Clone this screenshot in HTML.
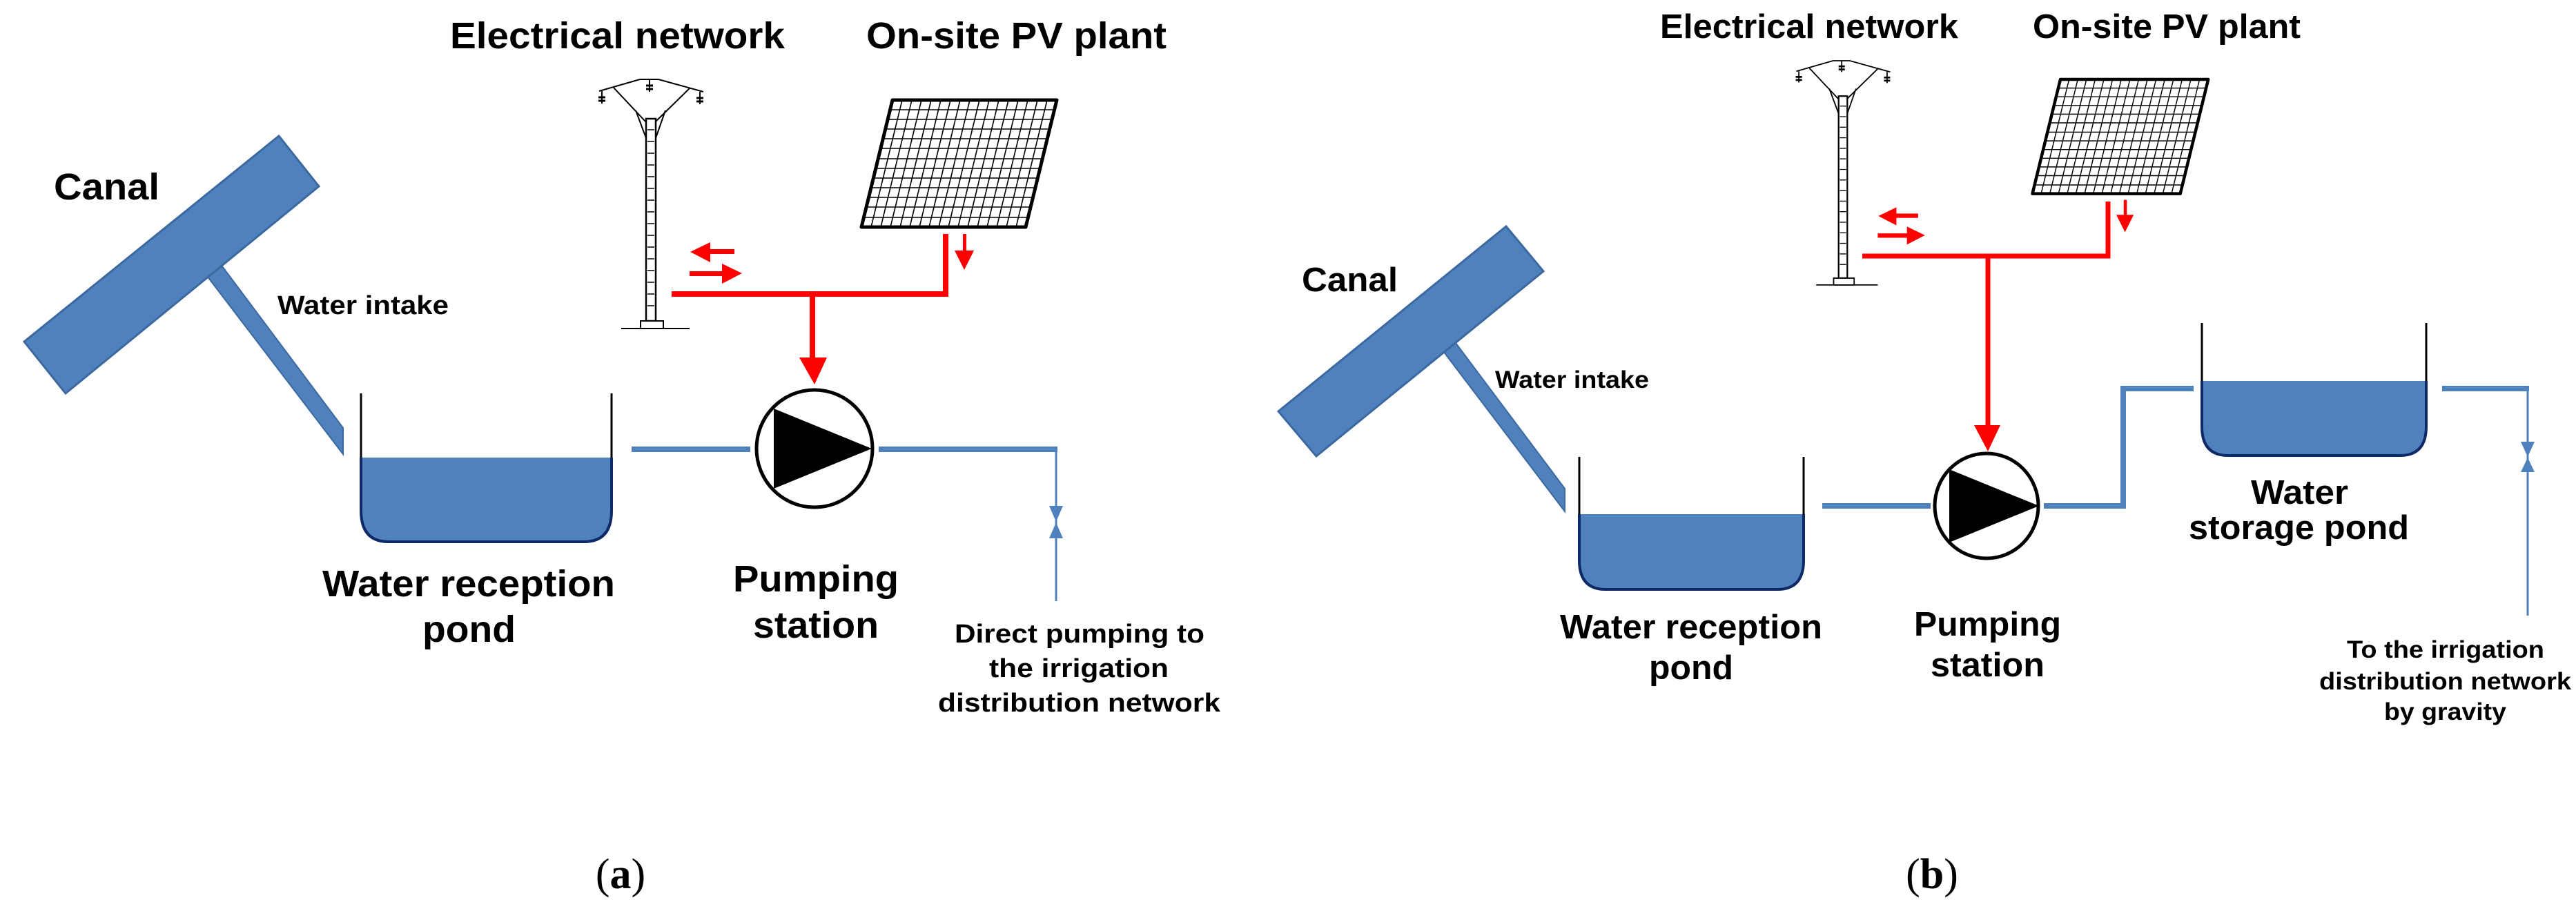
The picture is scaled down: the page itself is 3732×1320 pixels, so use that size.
<!DOCTYPE html>
<html><head><meta charset="utf-8"><style>html,body{margin:0;padding:0;background:#fff}svg{display:block}</style></head>
<body>
<svg xmlns="http://www.w3.org/2000/svg" width="3732" height="1320" viewBox="0 0 3732 1320" font-family="Liberation Sans, Arial, sans-serif" font-weight="bold">
<defs>
<g id="tower" fill="none" stroke="#000" stroke-width="2">
  <path d="M868,132 L927,115 L954,115 L1019,133"/>
  <path d="M889,127 L936,177 M999,128 L949,177 M921,160 L936,200 M964,160 L950,200"/>
  <rect x="936" y="172" width="14" height="293" fill="#fff" stroke-width="2.5"/>
  <path d="M938,188 h10 M938,205 h10 M938,222 h10 M938,239 h10 M938,256 h10 M938,273 h10 M938,290 h10 M938,307 h10 M938,324 h10 M938,341 h10 M938,358 h10 M938,375 h10 M938,392 h10 M938,409 h10 M938,426 h10 M938,443 h10" stroke-width="1.5"/>
  <rect x="928" y="465" width="33" height="11" fill="#fff"/>
  <path d="M900,476 H999"/>
  <path d="M872,132 v18 M941,115 v18 M1014,133 v18" stroke-width="2"/>
  <path d="M867,141 h10 M867,146 h10 M936,124 h10 M936,129 h10 M1009,142 h10 M1009,147 h10" stroke-width="3"/>
</g>
<g id="pv">
  <polygon points="1293,145 1531,145 1486,329 1248,329" fill="#fff" stroke="#000" stroke-width="5" stroke-linejoin="round"/>
  <g stroke="#000" stroke-width="1.6">
    <line x1="1307" y1="145" x2="1262" y2="329"/><line x1="1321" y1="145" x2="1276" y2="329"/><line x1="1335" y1="145" x2="1290" y2="329"/><line x1="1349" y1="145" x2="1304" y2="329"/><line x1="1363" y1="145" x2="1318" y2="329"/><line x1="1377" y1="145" x2="1332" y2="329"/><line x1="1391" y1="145" x2="1346" y2="329"/><line x1="1405" y1="145" x2="1360" y2="329"/><line x1="1419" y1="145" x2="1374" y2="329"/><line x1="1433" y1="145" x2="1388" y2="329"/><line x1="1447" y1="145" x2="1402" y2="329"/><line x1="1461" y1="145" x2="1416" y2="329"/><line x1="1475" y1="145" x2="1430" y2="329"/><line x1="1489" y1="145" x2="1444" y2="329"/><line x1="1503" y1="145" x2="1458" y2="329"/><line x1="1517" y1="145" x2="1472" y2="329"/>
    <line x1="1290" y1="159" x2="1528" y2="159"/><line x1="1286" y1="173" x2="1524" y2="173"/><line x1="1283" y1="187" x2="1521" y2="187"/><line x1="1279" y1="201" x2="1517" y2="201"/><line x1="1276" y1="215" x2="1514" y2="215"/><line x1="1272" y1="230" x2="1510" y2="230"/><line x1="1269" y1="244" x2="1507" y2="244"/><line x1="1265" y1="258" x2="1503" y2="258"/><line x1="1262" y1="272" x2="1500" y2="272"/><line x1="1258" y1="286" x2="1496" y2="286"/><line x1="1255" y1="300" x2="1493" y2="300"/><line x1="1251" y1="315" x2="1489" y2="315"/>
  </g>
</g>
<g id="smallarrows" fill="#f00">
  <rect x="1026" y="361" width="38" height="7"/><polygon points="1000,365 1029,351 1029,380"/>
  <rect x="999" y="393" width="50" height="7"/><polygon points="1075,396 1046,382 1046,411"/>
  <rect x="1395" y="339" width="5" height="28"/><polygon points="1383,363 1411,363 1397,391"/>
</g>
</defs>

<!-- ===== Panel (a) ===== -->
<text x="652" y="70" font-size="54" textLength="485" lengthAdjust="spacingAndGlyphs">Electrical network</text>
<text x="1255" y="70" font-size="54" textLength="435" lengthAdjust="spacingAndGlyphs">On-site PV plant</text>
<use href="#tower"/>
<use href="#pv"/>
<use href="#smallarrows"/>
<g fill="none" stroke="#f00" stroke-width="8">
  <path d="M973,426 H1370 V339"/>
  <path d="M1177,426 V522"/>
</g>
<polygon points="1158,518 1198,518 1180,557" fill="#f00"/>

<text x="78" y="289" font-size="54" textLength="153" lengthAdjust="spacingAndGlyphs">Canal</text>
<polygon points="300,400 322,386 497,620 497,658" fill="#4f81bd" stroke="#3c68a0" stroke-width="2"/>
<polygon points="35,495 404,197 462,270 95,570" fill="#4f81bd" stroke="#3c68a0" stroke-width="3"/>
<text x="402" y="455" font-size="38" textLength="248" lengthAdjust="spacingAndGlyphs">Water intake</text>

<path d="M523,663 H886 V740 Q886,785 846,785 H563 Q523,785 523,740 Z" fill="#4f81bd"/>
<path d="M886,663 V740 Q886,785 846,785 H563 Q523,785 523,740 V663" fill="none" stroke="#0d2a66" stroke-width="4"/>
<path d="M523,570 V663 M886,570 V663" stroke="#000" stroke-width="3"/>

<rect x="915" y="647" width="172" height="8" fill="#4f81bd"/>
<rect x="1273" y="647" width="259" height="8" fill="#4f81bd"/>
<path d="M1530,651 V871" stroke="#4f81bd" stroke-width="3"/>
<polygon points="1520,733 1540,733 1530,756" fill="#4f81bd"/>
<polygon points="1520,780 1540,780 1530,757" fill="#4f81bd"/>
<ellipse cx="1180" cy="650" rx="84" ry="85" fill="#fff" stroke="#000" stroke-width="5"/>
<polygon points="1121,592 1121,708 1263,650" fill="#000"/>

<text x="467" y="864" font-size="54" textLength="424" lengthAdjust="spacingAndGlyphs">Water reception</text>
<text x="612" y="930" font-size="54" textLength="135" lengthAdjust="spacingAndGlyphs">pond</text>
<text x="1062" y="857" font-size="54" textLength="240" lengthAdjust="spacingAndGlyphs">Pumping</text>
<text x="1091" y="924" font-size="54" textLength="182" lengthAdjust="spacingAndGlyphs">station</text>
<text x="1383" y="931" font-size="38" textLength="362" lengthAdjust="spacingAndGlyphs">Direct pumping to</text>
<text x="1433" y="981" font-size="38" textLength="260" lengthAdjust="spacingAndGlyphs">the irrigation</text>
<text x="1359" y="1031" font-size="38" textLength="409" lengthAdjust="spacingAndGlyphs">distribution network</text>

<text x="899" y="1287" font-size="62" font-family="Liberation Serif, serif" font-weight="normal" text-anchor="middle">(<tspan font-weight="bold">a</tspan>)</text>

<!-- ===== Panel (b) ===== -->
<text x="2405" y="55" font-size="49" textLength="432" lengthAdjust="spacingAndGlyphs">Electrical network</text>
<text x="2945" y="55" font-size="49" textLength="388" lengthAdjust="spacingAndGlyphs">On-site PV plant</text>
<g transform="translate(2670,88) scale(0.9) translate(-943,-115)">
  <use href="#tower"/>
  <use href="#pv"/>
  <use href="#smallarrows"/>
</g>
<g fill="none" stroke="#f00" stroke-width="7">
  <path d="M2698,371 H3054 V292"/>
  <path d="M2880,371 V620"/>
</g>
<polygon points="2860,616 2898,616 2880,654" fill="#f00"/>

<text x="1886" y="422" font-size="49" textLength="139" lengthAdjust="spacingAndGlyphs">Canal</text>
<polygon points="2091,509 2109,497 2267,708 2267,741" fill="#4f81bd" stroke="#3c68a0" stroke-width="2"/>
<polygon points="1852,596 2182,328 2236,393 1907,661" fill="#4f81bd" stroke="#3c68a0" stroke-width="3"/>
<text x="2166" y="562" font-size="35" textLength="223" lengthAdjust="spacingAndGlyphs">Water intake</text>

<path d="M2288,745 H2613 V812 Q2613,854 2575,854 H2326 Q2288,854 2288,812 Z" fill="#4f81bd"/>
<path d="M2613,745 V812 Q2613,854 2575,854 H2326 Q2288,854 2288,812 V745" fill="none" stroke="#0d2a66" stroke-width="4"/>
<path d="M2288,662 V745 M2613,662 V745" stroke="#000" stroke-width="3"/>

<path d="M3190,552 H3515 V618 Q3515,660 3477,660 H3228 Q3190,660 3190,618 Z" fill="#4f81bd"/>
<path d="M3515,552 V618 Q3515,660 3477,660 H3228 Q3190,660 3190,618 V552" fill="none" stroke="#0d2a66" stroke-width="4"/>
<path d="M3190,468 V552 M3515,468 V552" stroke="#000" stroke-width="3"/>

<rect x="2640" y="729" width="157" height="8" fill="#4f81bd"/>
<path d="M2961,733 H3076 V563 H3178" fill="none" stroke="#4f81bd" stroke-width="8"/>
<path d="M3538,563 H3664" stroke="#4f81bd" stroke-width="8"/>
<path d="M3662,565 V892" stroke="#4f81bd" stroke-width="3"/>
<polygon points="3652,640 3672,640 3662,662" fill="#4f81bd"/>
<polygon points="3652,684 3672,684 3662,663" fill="#4f81bd"/>
<ellipse cx="2878" cy="733" rx="75" ry="76" fill="#fff" stroke="#000" stroke-width="5"/>
<polygon points="2824,680 2824,786 2954,733" fill="#000"/>

<text x="2260" y="925" font-size="49" textLength="380" lengthAdjust="spacingAndGlyphs">Water reception</text>
<text x="2389" y="984" font-size="49" textLength="122" lengthAdjust="spacingAndGlyphs">pond</text>
<text x="2773" y="921" font-size="49" textLength="213" lengthAdjust="spacingAndGlyphs">Pumping</text>
<text x="2797" y="980" font-size="49" textLength="165" lengthAdjust="spacingAndGlyphs">station</text>
<text x="3261" y="730" font-size="49" textLength="141" lengthAdjust="spacingAndGlyphs">Water</text>
<text x="3171" y="781" font-size="49" textLength="319" lengthAdjust="spacingAndGlyphs">storage pond</text>
<text x="3400" y="953" font-size="35" textLength="286" lengthAdjust="spacingAndGlyphs">To the irrigation</text>
<text x="3360" y="999" font-size="35" textLength="365" lengthAdjust="spacingAndGlyphs">distribution network</text>
<text x="3454" y="1043" font-size="35" textLength="177" lengthAdjust="spacingAndGlyphs">by gravity</text>

<text x="2799" y="1287" font-size="62" font-family="Liberation Serif, serif" font-weight="normal" text-anchor="middle">(<tspan font-weight="bold">b</tspan>)</text>
</svg>
</body></html>
